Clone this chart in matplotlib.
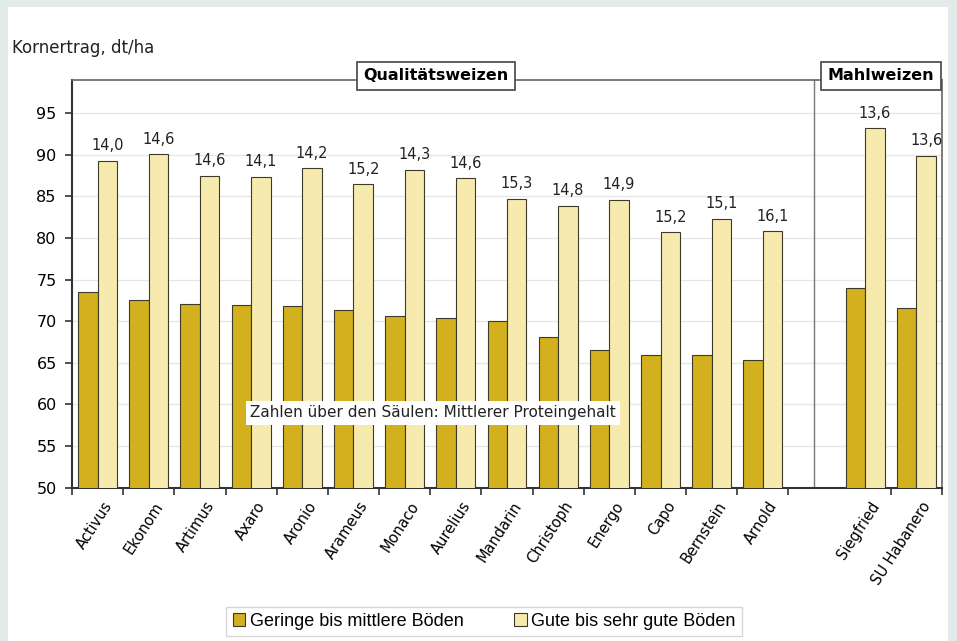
import matplotlib
matplotlib.use('Agg')
import matplotlib.pyplot as plt
from matplotlib.patches import Rectangle, Patch

# values
sorten = ['Activus', 'Ekonom', 'Artimus', 'Axaro', 'Aronio', 'Arameus', 'Monaco',
          'Aurelius', 'Mandarin', 'Christoph', 'Energo', 'Capo', 'Bernstein', 'Arnold',
          '', 'Siegfried', 'SU Habanero']
geringe = [73.5, 72.5, 72.1, 71.9, 71.8, 71.4, 70.6, 70.4, 70.0, 68.1, 66.5, 65.9, 65.9, 65.4,
           None, 74.0, 71.6]
gute = [89.3, 90.1, 87.5, 87.4, 88.4, 86.5, 88.2, 87.2, 84.7, 83.9, 84.6, 80.7, 82.3, 80.8,
        None, 93.2, 89.9]
protein = ['14,0', '14,6', '14,6', '14,1', '14,2', '15,2', '14,3', '14,6', '15,3', '14,8', '14,9',
           '15,2', '15,1', '16,1', '', '13,6', '13,6']

dunkel = '#D3B01D'
hell = '#F7EAAE'
kante = '#3d3a2a'

plt.rcParams['font.family'] = ['DejaVu Sans']

fig = plt.figure(figsize=(9.57, 6.41), dpi=100)
fig.patch.set_facecolor('#E3EAEA')
# white panel behind everything
fig.patches.append(Rectangle((8 / 957, 0), 940 / 957, 634 / 641, transform=fig.transFigure,
                             facecolor='white', edgecolor='none', zorder=-10))

ax = fig.add_axes([72 / 957, 153.3 / 641, 870 / 957, 407.7 / 641])
ax.set_facecolor('white')

w = 0.38
for i in range(len(sorten)):
    if geringe[i] is None:
        continue
    ax.bar(i - w / 2, geringe[i], width=w, bottom=0, color=dunkel, edgecolor=kante,
           linewidth=0.8, zorder=3)
    ax.bar(i + w / 2, gute[i], width=w, bottom=0, color=hell, edgecolor=kante,
           linewidth=0.8, zorder=3)
    ax.text(i + w / 2, gute[i] + 0.9, protein[i], ha='center', va='bottom', fontsize=10.5,
            color='#222222', zorder=4)

ax.set_xlim(-0.5, len(sorten) - 0.5)
ax.set_ylim(50, 99)
ax.set_yticks(range(50, 96, 5))
ax.tick_params(axis='y', labelsize=11.5, length=5, width=1.2, color='#333333', pad=6)
ax.yaxis.grid(True, color='#e6e6e6', linewidth=0.9, zorder=0)
ax.set_axisbelow(True)

ax.set_xticks([i + 0.1 for i in range(len(sorten))])
ax.set_xticklabels(sorten, rotation=57, ha='right', rotation_mode='anchor', fontsize=10.5)
ax.tick_params(axis='x', length=0, pad=8)
grenzen = [b - 0.5 for b in range(len(sorten) + 1) if b != 15]
ax.set_xticks(grenzen, minor=True)
ax.tick_params(axis='x', which='minor', length=5, width=1.2, color='#333333')

for s in ['left', 'bottom']:
    ax.spines[s].set_color('#333333')
    ax.spines[s].set_linewidth(1.5)
for s in ['top', 'right']:
    ax.spines[s].set_color('#666666')
    ax.spines[s].set_linewidth(1.2)
ax.axvline(14, color='#777777', linewidth=1.0, zorder=2)

# group labels
box = dict(boxstyle='square,pad=0.4', facecolor='white', edgecolor='#444444', linewidth=1.2)
ax.text(6.61, 99.5, 'Qualitätsweizen', ha='center', va='center', fontsize=11.5,
        fontweight='bold', bbox=box, clip_on=False, zorder=5)
ax.text(15.31, 99.5, 'Mahlweizen', ha='center', va='center', fontsize=11.5,
        fontweight='bold', bbox=box, clip_on=False, zorder=5)

ax.text(2.98, 59.0, 'Zahlen über den Säulen: Mittlerer Proteingehalt', ha='left', va='center',
        fontsize=11, color='#222222', zorder=6,
        bbox=dict(boxstyle='square,pad=0.3', facecolor='white', edgecolor='none'))

fig.text(12 / 957, 1 - 48 / 641, 'Kornertrag, dt/ha', fontsize=12, ha='left', va='center',
         color='#222222')

handles = [Patch(facecolor=dunkel, edgecolor=kante, linewidth=0.8, label='Geringe bis mittlere Böden'),
           Patch(facecolor=hell, edgecolor=kante, linewidth=0.8, label='Gute bis sehr gute Böden')]
leg = fig.legend(handles=handles, loc='center', bbox_to_anchor=(484 / 957, 1 - 621.5 / 641),
                 ncol=2, frameon=True, fancybox=False, edgecolor='#cccccc',
                 prop={'family': 'Liberation Sans', 'size': 13},
                 handlelength=0.7, handleheight=0.7, handletextpad=0.25, columnspacing=2.8,
                 borderpad=0.35, borderaxespad=0)
leg.get_frame().set_linewidth(1.0)

fig.savefig('out.png', dpi=100, facecolor=fig.get_facecolor())
